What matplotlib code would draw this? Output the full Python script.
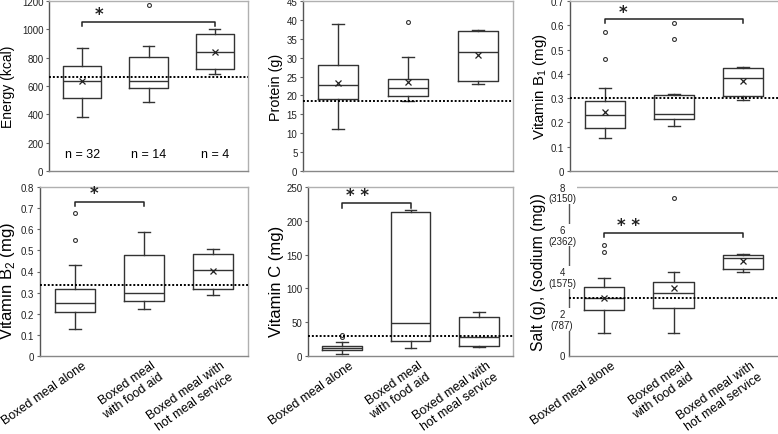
import matplotlib
matplotlib.use("Agg")
import matplotlib.pyplot as plt
import matplotlib.transforms as mtransforms
import numpy as np

plt.rcParams["font.family"] = ["Liberation Sans", "DejaVu Sans"]

GROUPS = ["Boxed meal alone", "Boxed meal\nwith food aid", "Boxed meal with\nhot meal service"]
N_PER_GROUP = [32, 14, 4]

# each row: [whisker low, q1, median, q3, whisker high]
ENERGY_BOX = [[381, 517, 638, 743, 869], [486, 586, 633, 805, 881], [688, 721, 840, 964, 1000]]
ENERGY_MEAN = [632, np.nan, 843]
ENERGY_FLIERS = [[], [1174], []]
ENERGY_REF = 667

PROTEIN_BOX = [[11.1, 19.0, 22.8, 28.1, 39.0], [18.4, 19.8, 22.1, 24.3, 30.3], [22.9, 23.9, 31.5, 37.0, 37.2]]
PROTEIN_MEAN = [23.3, 23.6, 30.8]
PROTEIN_FLIERS = [[], [39.4], []]
PROTEIN_REF = 18.4

B1_BOX = [[0.135, 0.178, 0.229, 0.288, 0.340], [0.185, 0.214, 0.236, 0.315, 0.318], [0.294, 0.308, 0.382, 0.423, 0.427]]
B1_MEAN = [0.243, np.nan, 0.371]
B1_FLIERS = [[0.46, 0.571], [0.545, 0.611], []]
B1_REF = 0.30

B2_BOX = [[0.13, 0.206, 0.252, 0.319, 0.43], [0.224, 0.262, 0.30, 0.478, 0.589], [0.29, 0.319, 0.406, 0.484, 0.508]]
B2_MEAN = [np.nan, np.nan, 0.403]
B2_FLIERS = [[0.548, 0.678], [], []]
B2_REF = 0.338

VITC_BOX = [[2.5, 8.9, 11.9, 14.9, 20.8], [11.9, 22.8, 48.5, 212.4, 215.3], [13.4, 14.9, 28.2, 57.4, 64.4]]
VITC_MEAN = [np.nan, np.nan, np.nan]
VITC_FLIERS = [[27.7, 31.7], [], []]
VITC_REF = 29.7

SALT_BOX = [[1.1, 2.19, 2.74, 3.27, 3.68], [1.1, 2.25, 3.0, 3.5, 3.97], [4.0, 4.14, 4.62, 4.8, 4.81]]
SALT_MEAN = [2.75, 3.2, 4.5]
SALT_FLIERS = [[4.92, 5.25], [7.5], []]
SALT_REF = 2.75
SALT_TICKS = [0, 2, 4, 6, 8]
SODIUM_TICKS = ["", "787", "1575", "2362", "3150"]

W, H = 778, 435
fig = plt.figure(figsize=(W / 100, H / 100), dpi=100)


def px_axes(left, top, right, bottom):
    return fig.add_axes([left / W, 1 - bottom / H, (right - left) / W, (bottom - top) / H])


def draw_panel(ax, box, means, fliers, ref, ylim, yticks, ylabel, lab_x, lab_fs, lab_y=0.5, right_col=False):
    stats = []
    for (lo, q1, med, q3, hi), fl in zip(box, fliers):
        stats.append(dict(whislo=lo, q1=q1, med=med, q3=q3, whishi=hi, fliers=fl))
    ax.bxp(stats, positions=[1, 2, 3], widths=0.58, capwidths=0.17, showmeans=False,
           boxprops=dict(color="#333333", linewidth=1.0),
           medianprops=dict(color="#333333", linewidth=1.0),
           whiskerprops=dict(color="#333333", linewidth=1.0),
           capprops=dict(color="#333333", linewidth=1.0),
           flierprops=dict(marker="o", markersize=2.8, markerfacecolor="white",
                           markeredgecolor="#333333", markeredgewidth=0.8))
    ax.plot([1, 2, 3], means, linestyle="none", marker="x", markersize=4.5,
            color="#222222", markeredgewidth=0.9, zorder=4)
    ax.axhline(ref, color="black", linestyle=(0, (1, 1)), linewidth=1.4, zorder=3)

    ax.set_xlim(0.5, 3.5)
    ax.set_ylim(*ylim)
    if yticks is not None:
        ax.set_yticks(yticks)
        ax.set_yticklabels([f"{t:g}" for t in yticks])
    ax.tick_params(axis="y", labelsize=7, length=2.5, width=0.8, color="#666666", pad=1.5, labelcolor="#222222")
    ax.set_ylabel(ylabel, fontsize=lab_fs)
    ax.yaxis.set_label_coords(lab_x, lab_y)

    ax.spines["left"].set_color("#555555")
    ax.spines["bottom"].set_color("#888888")
    ax.spines["top"].set_color("#b0b0b0")
    ax.spines["right"].set_color("#b0b0b0")
    for s in ax.spines.values():
        s.set_linewidth(1.0)
    if right_col:
        ax.spines["right"].set_visible(False)


def bracket(ax, x1, x2, y, ylo, label, sx, sy):
    ax.plot([x1, x1, x2, x2], [ylo, y, y, ylo], color="#222222", linewidth=1.1)
    ax.text(sx, sy, label, ha="center", va="center", fontsize=12, family="DejaVu Sans",
            fontweight="bold", color="#222222")


def bottom_labels(ax):
    ax.set_xticks([1, 2, 3])
    ax.set_xticklabels(GROUPS, rotation=35, ha="right", va="top", rotation_mode="anchor", fontsize=9)
    ax.tick_params(axis="x", length=0, pad=3)
    shift = mtransforms.ScaledTranslation(7 / 100, 1 / 100, fig.dpi_scale_trans)
    for lab in ax.get_xticklabels():
        lab.set_transform(lab.get_transform() + shift)


# top row
ax_e = px_axes(49, 2, 248, 172)
draw_panel(ax_e, ENERGY_BOX, ENERGY_MEAN, ENERGY_FLIERS, ENERGY_REF, (0, 1200),
           list(range(0, 1201, 200)), "Energy (kcal)", -0.171, 10)
bracket(ax_e, 1, 3, 1052, 1026, "*", 1.25, 1110)
for x, n in zip([1, 2, 3], N_PER_GROUP):
    ax_e.text(x, 120, f"n = {n}", ha="center", va="center", fontsize=9)
ax_e.set_xticks([])

ax_p = px_axes(303, 2, 513, 172)
draw_panel(ax_p, PROTEIN_BOX, PROTEIN_MEAN, PROTEIN_FLIERS, PROTEIN_REF, (0, 45),
           list(range(0, 46, 5)), "Protein (g)", -0.095, 10.3)
ax_p.set_xticks([])

ax_b1 = px_axes(570, 2, 778, 172)
draw_panel(ax_b1, B1_BOX, B1_MEAN, B1_FLIERS, B1_REF, (0, 0.7),
           list(np.round(np.arange(0, 0.71, 0.1), 1)), r"Vitamin B$_\mathregular{1}$ (mg)", -0.10, 10.8,
           right_col=True)
bracket(ax_b1, 1, 3, 0.626, 0.61, "*", 1.27, 0.656)
ax_b1.set_xticks([])

# bottom row
ax_b2 = px_axes(40, 188, 248, 357)
draw_panel(ax_b2, B2_BOX, B2_MEAN, B2_FLIERS, B2_REF, (0, 0.8),
           list(np.round(np.arange(0, 0.81, 0.1), 1)), r"Vitamin B$_\mathregular{2}$ (mg)", -0.11, 12,
           lab_y=0.45)
bracket(ax_b2, 1, 2, 0.73, 0.71, "*", 1.28, 0.77)
bottom_labels(ax_b2)

ax_c = px_axes(308, 188, 513, 357)
draw_panel(ax_c, VITC_BOX, VITC_MEAN, VITC_FLIERS, VITC_REF, (0, 250),
           list(range(0, 251, 50)), "Vitamin C (mg)", -0.117, 12, lab_y=0.45)
bracket(ax_c, 1, 2, 226.7, 219, "* *", 1.23, 237.6)
bottom_labels(ax_c)

ax_s = px_axes(569, 188, 778, 357)
draw_panel(ax_s, SALT_BOX, SALT_MEAN, SALT_FLIERS, SALT_REF, (0, 8), None,
           "Salt (g), (sodium (mg))", -0.11, 11.3, right_col=True)
ax_s.set_yticks(SALT_TICKS)
ax_s.set_yticklabels([])
ax_s.tick_params(axis="y", length=0)
for v, na in zip(SALT_TICKS, SODIUM_TICKS):
    txt = f"{v:g}\n({na})" if na else f"{v:g}"
    ax_s.annotate(txt, xy=(0, v), xycoords=ax_s.get_yaxis_transform(),
                  xytext=(-5, -4.3 if na else 0), textcoords="offset points",
                  ha="center", va="center", fontsize=7, linespacing=1.1, color="#222222",
                  bbox=dict(facecolor="white", edgecolor="none", pad=0.6),
                  annotation_clip=False, zorder=5)
bracket(ax_s, 1, 3, 5.84, 5.64, "* *", 1.35, 6.19)
bottom_labels(ax_s)

fig.savefig("out.png", dpi=100)
